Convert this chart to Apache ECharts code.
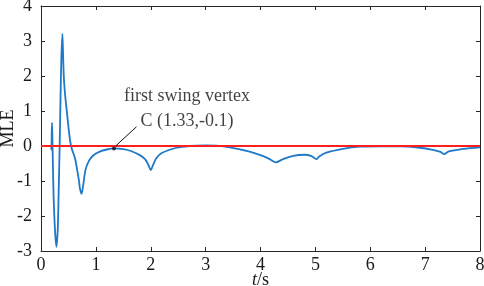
<!DOCTYPE html>
<html>
<head>
<meta charset="utf-8">
<script src="https://cdn.jsdelivr.net/npm/echarts@6/dist/echarts.min.js"></script>
<style>
  html, body { margin: 0; padding: 0; background: #fff; }
  #main { width: 484px; height: 286px; }
</style>
</head>
<body>
<div id="main"></div>
<script>
// time samples (s) and MLE values
const tVals = [0, 0.17, 0.185, 0.19, 0.195, 0.2, 0.205, 0.215, 0.23, 0.255, 0.28, 0.305, 0.32, 0.34, 0.355, 0.37, 0.39,
  0.40, 0.415, 0.44, 0.47, 0.50, 0.53, 0.565, 0.6, 0.63, 0.66, 0.69, 0.71, 0.74, 0.77, 0.81, 0.875, 0.95, 1.07, 1.2, 1.33,
  1.5, 1.65, 1.8, 1.9, 1.96, 2.0, 2.04, 2.1, 2.2, 2.47, 2.7, 3.0, 3.2, 3.44, 3.8, 4.0, 4.15, 4.28, 4.4, 4.6, 4.8,
  4.92, 4.98, 5.02, 5.07, 5.2, 5.5, 5.81, 6.2, 6.54, 6.9, 7.14, 7.28, 7.35, 7.42, 7.5, 7.7, 8.0];
const mleVals = [0, 0, 0, -0.1, 0.3, 0.66, 0.4, -0.4, -1.45, -2.4, -2.88, -2.4, -1.45, 0, 1.3, 2.46, 3.2,
  2.74, 2.0, 1.45, 1.0, 0.55, 0.15, -0.1, -0.25, -0.42, -0.69, -0.97, -1.22, -1.37, -1.11, -0.69, -0.42, -0.27, -0.16, -0.1, -0.07,
  -0.09, -0.15, -0.26, -0.38, -0.55, -0.69, -0.55, -0.35, -0.2, -0.05, 0, 0.02, 0.01, -0.04, -0.16, -0.26, -0.36, -0.47, -0.38, -0.28, -0.25,
  -0.28, -0.34, -0.38, -0.3, -0.19, -0.08, -0.02, -0.01, -0.01, -0.05, -0.11, -0.17, -0.23, -0.16, -0.13, -0.08, -0.04];

// reference line y = 0
const refLine = [[0, 0], [8, 0]];
// annotation: vertex point and its leader line
const vertexPoint = [1.33, -0.07];
const leaderLine = [[1.36, 0.0], [1.74, 0.55]];
const vertexText = 'first swing vertex\nC (1.33,-0.1)';

const xTicks = [0, 8, 1];
const yTicks = [-3, 4, 1];

const FONT = 'Liberation Serif';
const AXIS_COLOR = '#262626';

const chart = echarts.init(document.getElementById('main'));

function boxAxis(pos, range, isMain, extra) {
  return Object.assign({
    type: 'value',
    position: pos,
    min: range[0],
    max: range[1],
    interval: range[2],
    axisLine: { show: true, onZero: false, lineStyle: { color: AXIS_COLOR, width: 1 } },
    axisTick: { show: true, inside: true, length: 4, lineStyle: { color: AXIS_COLOR } },
    splitLine: { show: false },
    axisLabel: { show: isMain, fontFamily: FONT, fontSize: 18, color: '#1a1a1a' }
  }, extra || {});
}

const option = {
  animation: false,
  grid: { left: 41, right: 4, top: 6, bottom: 35, containLabel: false, outerBoundsMode: 'none' },
  xAxis: [
    boxAxis('bottom', xTicks, true, {
      name: '{i|t}/s',
      nameLocation: 'middle',
      nameGap: 20,
      nameMoveOverlap: false,
      nameTextStyle: {
        fontFamily: FONT, fontSize: 18, color: '#1a1a1a',
        rich: { i: { fontFamily: FONT, fontSize: 18, fontStyle: 'italic', color: '#1a1a1a' } }
      },
      axisLabel: { show: true, fontFamily: FONT, fontSize: 18, color: '#1a1a1a', margin: 5 }
    }),
    boxAxis('top', xTicks, false)
  ],
  yAxis: [
    boxAxis('left', yTicks, true, {
      name: 'MLE',
      nameLocation: 'middle',
      nameGap: 24,
      nameMoveOverlap: false,
      nameTextStyle: { fontFamily: FONT, fontSize: 18, color: '#1a1a1a' },
      axisLabel: { show: true, fontFamily: FONT, fontSize: 18, color: '#1a1a1a', margin: 9 }
    }),
    boxAxis('right', yTicks, false)
  ],
  series: [
    {
      name: 'MLE',
      type: 'line',
      data: tVals.map((t, i) => [t, mleVals[i]]),
      showSymbol: false,
      smooth: 0.25,
      lineStyle: { color: '#1f78c8', width: 1.8 },
      z: 2
    },
    {
      name: 'zero',
      type: 'line',
      data: refLine,
      showSymbol: false,
      lineStyle: { color: '#ff1f1f', width: 2 },
      z: 3
    },
    {
      name: 'leader',
      type: 'line',
      data: leaderLine,
      showSymbol: false,
      lineStyle: { color: '#111', width: 1 },
      z: 4
    },
    {
      name: 'vertex',
      type: 'scatter',
      data: [vertexPoint],
      symbol: 'circle',
      symbolSize: 4,
      itemStyle: { color: '#111' },
      z: 5,
      label: {
        show: true,
        position: 'inside',
        offset: [73, -40],
        formatter: vertexText,
        fontFamily: FONT,
        fontSize: 18,
        lineHeight: 25,
        align: 'center',
        color: '#111'
      }
    }
  ]
};

chart.setOption(option);
</script>
</body>
</html>
